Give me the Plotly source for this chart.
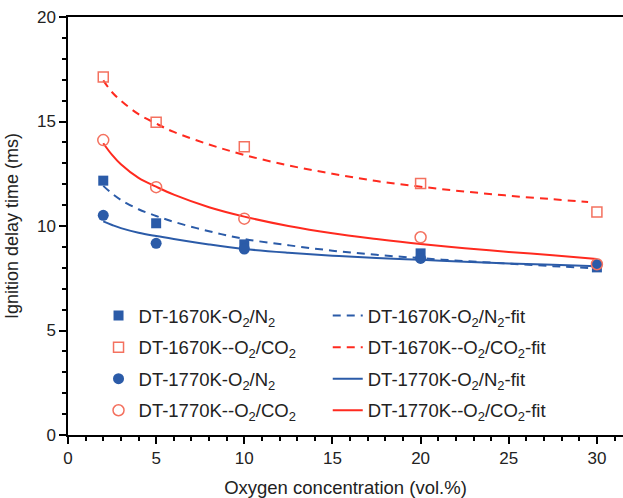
import plotly.graph_objects as go

# measured points
x_pts = [2, 5, 10, 20, 30]
dt1670_n2 = [12.17, 10.13, 9.12, 8.69, 8.02]
dt1670_co2 = [17.13, 14.97, 13.79, 12.03, 10.67]
dt1770_n2 = [10.51, 9.17, 8.90, 8.45, 8.16]
dt1770_co2 = [14.11, 11.86, 10.35, 9.46, 8.17]

# fit curves
x_fit = [2, 2.5, 3, 4, 5, 6, 8, 10, 12.5, 15, 17.5, 20, 22.5, 25, 27.5, 30]
fit1670_n2 = [11.92, 11.55, 11.25, 10.8, 10.48, 10.2, 9.75, 9.38, 9.08, 8.82, 8.62, 8.46, 8.32, 8.2, 8.08, 7.97]
fit1770_n2 = [10.22, 10.05, 9.9, 9.68, 9.52, 9.38, 9.12, 8.9, 8.72, 8.58, 8.47, 8.38, 8.29, 8.21, 8.14, 8.08]
fit1770_co2 = [13.96, 13.4, 12.95, 12.3, 11.88, 11.5, 10.9, 10.45, 10.0, 9.65, 9.38, 9.14, 8.94, 8.76, 8.6, 8.42]
x_fit_co2 = [2, 2.5, 3, 4, 5, 6, 8, 10, 12.5, 15, 17.5, 20, 22.5, 25, 27.5, 29.5]
fit1670_co2 = [16.97, 16.4, 16.0, 15.35, 14.9, 14.5, 13.9, 13.4, 12.9, 12.5, 12.15, 11.88, 11.65, 11.45, 11.28, 11.15]

blue = '#2B5BA8'
red = '#FF2A1F'
salmon = '#F4715F'

fig = go.Figure()

### fit lines first so markers sit on top (second legend column) ###
fits = [
    (x_fit, fit1670_n2, blue, '8px,6px', 'DT-1670K-O<sub>2</sub>/N<sub>2</sub>-fit'),
    (x_fit_co2, fit1670_co2, red, '8px,6px', 'DT-1670K--O<sub>2</sub>/CO<sub>2</sub>-fit'),
    (x_fit, fit1770_n2, blue, 'solid', 'DT-1770K-O<sub>2</sub>/N<sub>2</sub>-fit'),
    (x_fit, fit1770_co2, red, 'solid', 'DT-1770K--O<sub>2</sub>/CO<sub>2</sub>-fit'),
]
for i, (xs, ys, col, dash, name) in enumerate(fits):
    fig.add_trace(go.Scatter(x=xs, y=ys, mode='lines', line_shape='spline',
                             line=dict(color=col, width=2, dash=dash),
                             name=name, legend='legend2', legendgroup='f%d' % i,
                             legendrank=i + 1))

### markers (first legend column) ###
pts = [
    (dt1670_n2, dict(symbol='square', size=10, color=blue), 'DT-1670K-O<sub>2</sub>/N<sub>2</sub>'),
    (dt1670_co2, dict(symbol='square-open', size=10, color=salmon, line=dict(width=1.5)),
     'DT-1670K--O<sub>2</sub>/CO<sub>2</sub>'),
    (dt1770_n2, dict(symbol='circle', size=11, color=blue), 'DT-1770K-O<sub>2</sub>/N<sub>2</sub>'),
    (dt1770_co2, dict(symbol='circle-open', size=11, color=salmon, line=dict(width=1.5)),
     'DT-1770K--O<sub>2</sub>/CO<sub>2</sub>'),
]
for i, (ys, mk, name) in enumerate(pts):
    fig.add_trace(go.Scatter(x=x_pts, y=ys, mode='markers', marker=mk,
                             name=name, legend='legend', legendgroup='m%d' % i,
                             legendrank=i + 1))

legend_style = dict(
    orientation='v',
    yanchor='top',
    xanchor='left',
    y=0.33,
    bgcolor='rgba(0,0,0,0)',
    font=dict(size=18.5, color='#222222'),
    tracegroupgap=4.5,
)

fig.update_layout(
    width=623,
    height=498,
    margin=dict(l=68, r=0, t=17, b=63),
    plot_bgcolor='white',
    paper_bgcolor='white',
    font=dict(family='Arial, Liberation Sans, sans-serif', size=17, color='#222222'),
    legend=dict(legend_style, x=0.055),
    legend2=dict(legend_style, x=0.468),
    xaxis=dict(
        range=[0, 31.48],
        title=dict(text='Oxygen concentration (vol.%)', standoff=18, font=dict(size=18.5)),
        tickmode='linear', tick0=0, dtick=5,
        ticks='outside', ticklen=7, tickwidth=1.5, tickcolor='black',
        minor=dict(dtick=1, ticks='outside', ticklen=4, tickwidth=1.5, tickcolor='black'),
        showline=True, linecolor='black', linewidth=1.5, mirror=True,
        showgrid=False, zeroline=False,
    ),
    yaxis=dict(
        range=[0, 20],
        title=dict(text='Ignition delay time (ms)', standoff=14, font=dict(size=18)),
        tickmode='linear', tick0=0, dtick=5,
        ticks='outside', ticklen=7, tickwidth=1.5, tickcolor='black',
        minor=dict(dtick=1, ticks='outside', ticklen=4, tickwidth=1.5, tickcolor='black'),
        showline=True, linecolor='black', linewidth=1.5,
        showgrid=False, zeroline=False,
    ),
)

fig.write_html("out.html", config={'displayModeBar': False},
               post_script="document.body.style.margin='0';")
